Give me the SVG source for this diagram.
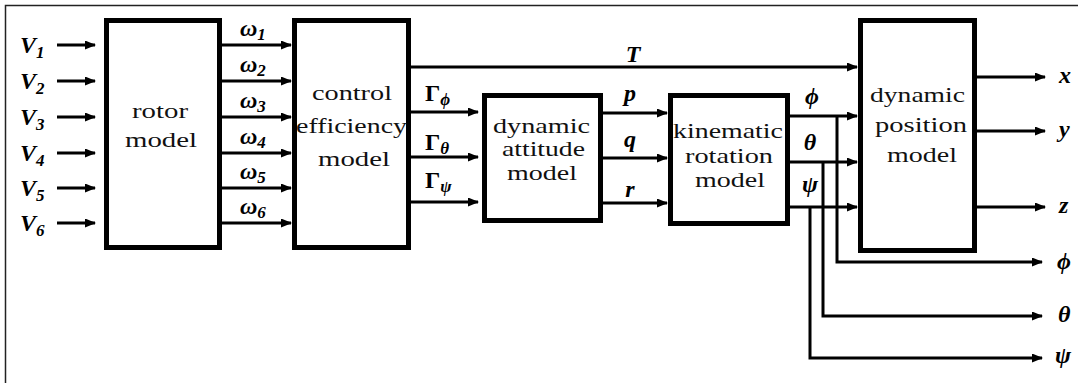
<svg xmlns="http://www.w3.org/2000/svg" width="1078" height="383" viewBox="0 0 1078 383">
<defs>
<marker id="ah" viewBox="0 0 11 9" refX="10" refY="4.5" markerWidth="11" markerHeight="9" markerUnits="userSpaceOnUse" orient="auto">
<path d="M0,0 L11,4.5 L0,9 z" fill="#000"/>
</marker>
<style>
.box{fill:#fff;stroke:#000;stroke-width:5}
.ar{fill:none;stroke:#000;stroke-width:3;marker-end:url(#ah)}
.bt{font-family:"Liberation Serif",serif;font-size:22px;fill:#111;text-anchor:middle}
.m{font-family:"Liberation Serif",serif;font-size:24px;font-style:italic;font-weight:bold;fill:#000}
.g{font-family:"Liberation Serif",serif;font-size:24px;font-weight:bold;fill:#000}
.s{font-size:17px}
</style>
</defs>
<rect x="5.5" y="5.5" width="1100" height="400" fill="#fff" stroke="#222" stroke-width="1.5"/>

<g id="connectors">
<line class="ar" x1="57" y1="45" x2="95" y2="45"/>
<line class="ar" x1="57" y1="81" x2="95" y2="81"/>
<line class="ar" x1="57" y1="117" x2="95" y2="117"/>
<line class="ar" x1="57" y1="153" x2="95" y2="153"/>
<line class="ar" x1="57" y1="188" x2="95" y2="188"/>
<line class="ar" x1="57" y1="223" x2="95" y2="223"/>
<line class="ar" x1="222" y1="45" x2="291" y2="45"/>
<line class="ar" x1="222" y1="81" x2="291" y2="81"/>
<line class="ar" x1="222" y1="117" x2="291" y2="117"/>
<line class="ar" x1="222" y1="153" x2="291" y2="153"/>
<line class="ar" x1="222" y1="188" x2="291" y2="188"/>
<line class="ar" x1="222" y1="223" x2="291" y2="223"/>
<line class="ar" x1="411" y1="67" x2="857" y2="67"/>
<line class="ar" x1="411" y1="112" x2="478" y2="112"/>
<line class="ar" x1="411" y1="157" x2="478" y2="157"/>
<line class="ar" x1="411" y1="202" x2="478" y2="202"/>
<line class="ar" x1="603" y1="113" x2="667" y2="113"/>
<line class="ar" x1="603" y1="158" x2="667" y2="158"/>
<line class="ar" x1="603" y1="203" x2="667" y2="203"/>
<line class="ar" x1="790" y1="116" x2="857" y2="116"/>
<line class="ar" x1="790" y1="162" x2="857" y2="162"/>
<line class="ar" x1="790" y1="207" x2="857" y2="207"/>
<polyline class="ar" points="837,116 837,262 1042,262"/>
<polyline class="ar" points="823,162 823,316 1042,316"/>
<polyline class="ar" points="810,207 810,358 1042,358"/>
<line class="ar" x1="977" y1="77" x2="1045" y2="77"/>
<line class="ar" x1="977" y1="131" x2="1045" y2="131"/>
<line class="ar" x1="977" y1="207" x2="1045" y2="207"/>
</g>

<g id="rotor">
<rect class="box" x="106.5" y="20.5" width="113" height="227"/>
<text class="bt" x="160" y="118" textLength="56" lengthAdjust="spacingAndGlyphs">rotor</text>
<text class="bt" x="161" y="147" textLength="72" lengthAdjust="spacingAndGlyphs">model</text>
</g>
<g id="control">
<rect class="box" x="294.5" y="20.5" width="114" height="227"/>
<text class="bt" x="352" y="100" textLength="80" lengthAdjust="spacingAndGlyphs">control</text>
<text class="bt" x="351.5" y="133" textLength="111" lengthAdjust="spacingAndGlyphs">efficiency</text>
<text class="bt" x="354" y="166" textLength="72" lengthAdjust="spacingAndGlyphs">model</text>
</g>
<g id="attitude">
<rect class="box" x="484.5" y="95.5" width="116" height="125"/>
<text class="bt" x="541.5" y="133" textLength="97" lengthAdjust="spacingAndGlyphs">dynamic</text>
<text class="bt" x="543.5" y="156" textLength="83" lengthAdjust="spacingAndGlyphs">attitude</text>
<text class="bt" x="542" y="180" textLength="70" lengthAdjust="spacingAndGlyphs">model</text>
</g>
<g id="kinematic">
<rect class="box" x="670.5" y="95.5" width="117" height="128"/>
<text class="bt" x="728" y="138" textLength="110" lengthAdjust="spacingAndGlyphs">kinematic</text>
<text class="bt" x="729" y="163" textLength="88" lengthAdjust="spacingAndGlyphs">rotation</text>
<text class="bt" x="730" y="187" textLength="70" lengthAdjust="spacingAndGlyphs">model</text>
</g>
<g id="position">
<rect class="box" x="860.5" y="20.5" width="114" height="230"/>
<text class="bt" x="917.5" y="102" textLength="95" lengthAdjust="spacingAndGlyphs">dynamic</text>
<text class="bt" x="921" y="132" textLength="92" lengthAdjust="spacingAndGlyphs">position</text>
<text class="bt" x="922" y="162" textLength="70" lengthAdjust="spacingAndGlyphs">model</text>
</g>

<g id="labels">
<text class="m" x="20" y="53">V<tspan class="s" dy="5">1</tspan></text>
<text class="m" x="20" y="89">V<tspan class="s" dy="5">2</tspan></text>
<text class="m" x="20" y="125">V<tspan class="s" dy="5">3</tspan></text>
<text class="m" x="20" y="161">V<tspan class="s" dy="5">4</tspan></text>
<text class="m" x="20" y="196">V<tspan class="s" dy="5">5</tspan></text>
<text class="m" x="20" y="231">V<tspan class="s" dy="5">6</tspan></text>
<text class="m" x="240" y="36">ω<tspan class="s" dy="4">1</tspan></text>
<text class="m" x="240" y="72">ω<tspan class="s" dy="4">2</tspan></text>
<text class="m" x="240" y="108">ω<tspan class="s" dy="4">3</tspan></text>
<text class="m" x="240" y="144">ω<tspan class="s" dy="4">4</tspan></text>
<text class="m" x="240" y="179">ω<tspan class="s" dy="4">5</tspan></text>
<text class="m" x="240" y="214">ω<tspan class="s" dy="4">6</tspan></text>
<text class="m" x="633" y="62" text-anchor="middle">T</text>
<text class="g" x="425" y="101">Γ<tspan class="s" font-style="italic" dy="4">ϕ</tspan></text>
<text class="g" x="425" y="150">Γ<tspan class="s" font-style="italic" dy="4">θ</tspan></text>
<text class="g" x="425" y="188">Γ<tspan class="s" font-style="italic" dy="4">ψ</tspan></text>
<text class="m" x="630" y="101" text-anchor="middle">p</text>
<text class="m" x="630" y="147" text-anchor="middle">q</text>
<text class="m" x="630" y="197" text-anchor="middle">r</text>
<text class="m" x="812" y="104" text-anchor="middle">ϕ</text>
<text class="m" x="810" y="150" text-anchor="middle">θ</text>
<text class="m" x="810" y="192" text-anchor="middle">ψ</text>
<text class="m" x="1059" y="83">x</text>
<text class="m" x="1059" y="137">y</text>
<text class="m" x="1059" y="213">z</text>
<text class="m" x="1057" y="269">ϕ</text>
<text class="m" x="1058" y="322">θ</text>
<text class="m" x="1055" y="363">ψ</text>
</g>
</svg>
